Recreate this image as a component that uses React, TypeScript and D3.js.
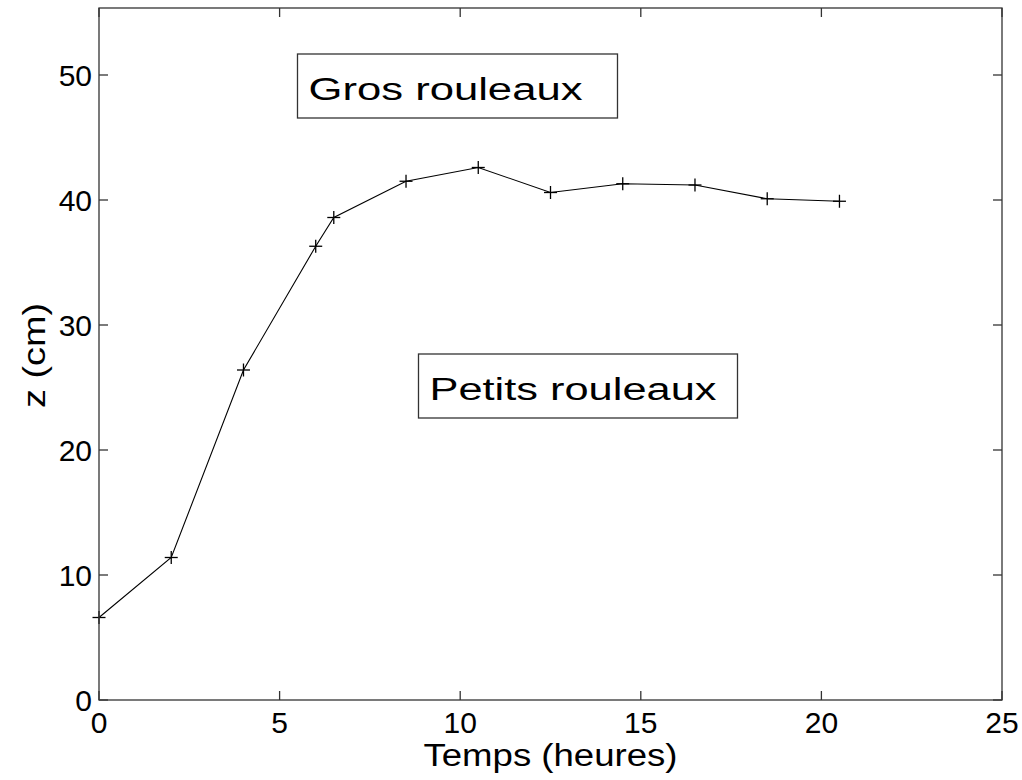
import * as d3 from 'd3';

// data
const hours = [0, 2, 4, 6, 6.5, 8.5, 10.5, 12.5, 14.5, 16.5, 18.5, 20.5];
const heights = [6.6, 11.4, 26.4, 36.3, 38.6, 41.5, 42.6, 40.6, 41.3, 41.2, 40.1, 39.9];
const xTicks = [0, 5, 10, 15, 20, 25];
const yTicks = [0, 10, 20, 30, 40, 50];
const labels = [
  { text: 'Gros rouleaux', x: 5.8, y: 48, w: 274, box: 320 },
  { text: 'Petits rouleaux', x: 9.15, y: 24, w: 287, box: 319 },
];

const WIDTH = 1022;
const HEIGHT = 780;
const FONT = '"Liberation Sans", Arial, Helvetica, sans-serif';
const AXIS = '#333';
const TICK = 9;

export default function App() {
  const x = d3.scaleLinear().domain([0, 25]).range([99, 1002]);
  const y = d3.scaleLinear().domain([0, 50]).range([700, 75]);
  const yTop = 55.36;
  const [x0, x1] = x.range();
  const y0 = y(0);
  const y1 = y(yTop);

  const pts = hours.map((h, i) => [h, heights[i]] as [number, number]);
  const line = d3
    .line<[number, number]>()
    .x((d) => x(d[0]))
    .y((d) => y(d[1]));

  return (
    <div style={{ position: 'absolute', left: 0, top: 0 }}>
      <svg width={WIDTH} height={HEIGHT} style={{ display: 'block', background: '#fff' }}>
        <rect x={0} y={0} width={WIDTH} height={HEIGHT} fill="#fff" />

        {/* series */}
        <path d={line(pts) || ''} fill="none" stroke="#000" strokeWidth={1.1} />
        {pts.map((d, i) => (
          <g key={i} transform={`translate(${x(d[0])},${y(d[1])})`} stroke="#000" strokeWidth={1.3}>
            <line x1={-6.5} x2={6.5} y1={0} y2={0} />
            <line x1={0} x2={0} y1={-6.5} y2={6.5} />
          </g>
        ))}

        {/* axes box */}
        <rect x={x0} y={y1} width={x1 - x0} height={y0 - y1} fill="none" stroke={AXIS} strokeWidth={1.3} />
        {xTicks.map((t) => (
          <g key={'x' + t} stroke={AXIS} strokeWidth={1.3}>
            <line x1={x(t)} x2={x(t)} y1={y0} y2={y0 - TICK} />
            <line x1={x(t)} x2={x(t)} y1={y1} y2={y1 + TICK} />
          </g>
        ))}
        {yTicks.map((t) => (
          <g key={'y' + t} stroke={AXIS} strokeWidth={1.3}>
            <line x1={x0} x2={x0 + TICK} y1={y(t)} y2={y(t)} />
            <line x1={x1} x2={x1 - TICK} y1={y(t)} y2={y(t)} />
          </g>
        ))}

        <g fontFamily={FONT} fontSize={30} fill="#000">
          {xTicks.map((t) => (
            <text key={'xl' + t} x={x(t)} y={y0 + 33} textAnchor="middle">
              {t}
            </text>
          ))}
          {yTicks.map((t) => (
            <text key={'yl' + t} x={x0 - 7} y={y(t) + 11} textAnchor="end">
              {t}
            </text>
          ))}
        </g>

        <g fontFamily={FONT} fontSize={31} fill="#000">
          <text x={x(12.5)} y={766} textAnchor="middle" textLength={254} lengthAdjust="spacingAndGlyphs">
            Temps (heures)
          </text>
          <text
            transform={`translate(45,355.5) rotate(-90)`}
            textAnchor="middle"
            textLength={105}
            lengthAdjust="spacingAndGlyphs"
          >
            z (cm)
          </text>
        </g>

        {/* annotations */}
        {labels.map((l) => (
          <g key={l.text}>
            <rect
              x={x(l.x) - 11}
              y={y(l.y) - 46}
              width={l.box}
              height={64}
              fill="#fff"
              stroke={AXIS}
              strokeWidth={1.3}
            />
            <text
              x={x(l.x)}
              y={y(l.y)}
              fontFamily={FONT}
              fontSize={31}
              textLength={l.w}
              lengthAdjust="spacingAndGlyphs"
            >
              {l.text}
            </text>
          </g>
        ))}
      </svg>
    </div>
  );
}
